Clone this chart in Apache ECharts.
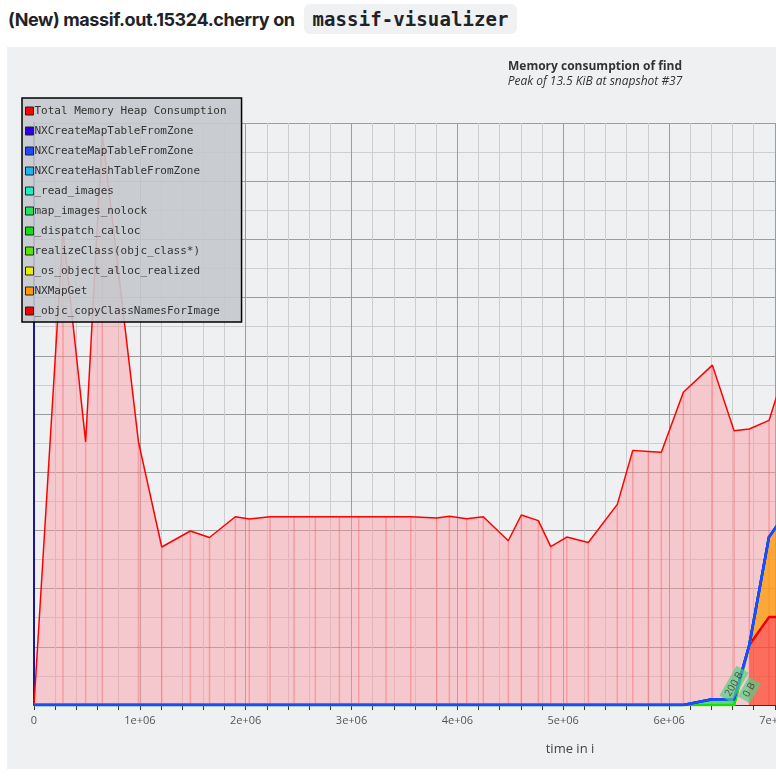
<!DOCTYPE html>
<html><head><meta charset="utf-8">
<script src="https://cdn.jsdelivr.net/npm/echarts/dist/echarts.min.js"></script>
<style>
html,body{margin:0;padding:0;background:#fff;width:776px;height:776px;overflow:hidden;}
#hdr{position:absolute;left:8px;top:7px;font:700 18px Inter, sans-serif;color:#1f2328;letter-spacing:-0.4px;white-space:nowrap;line-height:26px;}
#hdr code{font:700 19px 'DejaVu Sans Mono', monospace;background:#eff1f3;border-radius:6px;padding:4px 8px;letter-spacing:0.1px;margin-left:6px;}
#panel{position:absolute;left:7px;top:47px;width:769px;height:722px;background:#eef0f2;overflow:hidden;}
#chart{position:absolute;left:0;top:0;width:1176px;height:722px;}
</style></head>
<body>
<div id="hdr">(New) massif.out.15324.cherry on <code>massif-visualizer</code></div>
<div id="panel"><div id="chart"></div></div>
<script>
// snapshot times (instructions)
const snapshotTimes = [0, 274000, 488000, 645000, 987000, 1207000, 1477000, 1658000, 1902000, 2034000,
  2230000, 2457000, 2658000, 2885000, 3068000, 3326000, 3559000, 3805000, 3924000, 4088000,
  4245000, 4481000, 4604000, 4765000, 4882000, 5033000, 5237000, 5511000, 5657000, 5804000,
  5927000, 6135000, 6409000, 6614000, 6758000, 6944000, 7100000];
// total heap (bytes)
const totalHeap = [0, 16290, 9040, 19620, 9040, 5430, 5980, 5755, 6470, 6390,
  6470, 6470, 6470, 6470, 6470, 6470, 6470, 6425, 6485, 6400,
  6470, 5645, 6530, 6335, 5440, 5770, 5585, 6895, 8750, 8715,
  8685, 10745, 11680, 9425, 9485, 9780, 11560];
// detailed allocation sites (bytes); null = not present in that snapshot
const nxCreateMapTableA = [0,0,0,0,0,0,0,0,0,0, 0,0,0,0,0,0,0,0,0,0, 0,0,0,0,0,0,0,0,0,0, 0,0,0,0,0,0,0];
const nxCreateMapTableB = [0,0,0,0,0,0,0,0,0,0, 0,0,0,0,0,0,0,0,0,0, 0,0,0,0,0,0,0,0,0,0, 0,0,0,0,0,0,0];
const nxCreateHashTable = [0,0,0,0,0,0,0,0,0,0, 0,0,0,0,0,0,0,0,0,0, 0,0,0,0,0,0,0,0,0,0, 0,0,0,0,0,0,0];
const readImages        = [0,0,0,0,0,0,0,0,0,0, 0,0,0,0,0,0,0,0,0,0, 0,0,0,0,0,0,0,0,0,0, 0,0,0,0,0,0,0];
const mapImagesNolock   = [0,0,0,0,0,0,0,0,0,0, 0,0,0,0,0,0,0,0,0,0, 0,0,0,0,0,0,0,0,0,0, 0,0,200,200,0,0,0];
const dispatchCalloc    = [0,0,0,0,0,0,0,0,0,0, 0,0,0,0,0,0,0,0,0,0, 0,0,0,0,0,0,0,0,0,0, 0,0,0,0,0,0,0];
const realizeClass      = [0,0,0,0,0,0,0,0,0,0, 0,0,0,0,0,0,0,0,0,0, 0,0,0,0,0,0,0,0,0,0, 0,0,0,0,0,0,0];
const osObjectAlloc     = [0,0,0,0,0,0,0,0,0,0, 0,0,0,0,0,0,0,0,0,0, 0,0,0,0,0,0,0,0,0,0, 0,0,0,0,0,0,0];
const nxMapGet          = [0,0,0,0,0,0,0,0,0,0, 0,0,0,0,0,0,0,0,0,0, 0,0,0,0,0,0,0,0,0,0, 0,0,0,0,0,2750,3560];
const copyClassNames    = [null,null,null,null,null,null,null,null,null,null, null,null,null,null,null,null,null,null,null,null,
  null,null,null,null,null,null,null,null,null,null, null,null,null,null,2060,3020,3020];
// snapshot indices with value labels (map_images_nolock)
const labelIndices = [33, 34];
const xTickLabels = ['0','1e+06','2e+06','3e+06','4e+06','5e+06','6e+06','7e+06','8e+06','9e+06','1e+07'];

const TOTAL = 'Total Memory Heap Consumption';
// stacking order: bottom first
const detail = [
  {name:'_objc_copyClassNamesForImage', color:'#f00000', fill:'#ff3010', data:copyClassNames, op:0.6},
  {name:'NXMapGet', color:'#ff9a00', fill:'#ff9a00', data:nxMapGet, op:0.72},
  {name:'_os_object_alloc_realized', color:'#e6f000', fill:'#e6f000', data:osObjectAlloc, op:0.7},
  {name:'realizeClass(objc_class*)', color:'#52e600', fill:'#52e600', data:realizeClass, op:0.7},
  {name:'_dispatch_calloc', color:'#10e010', fill:'#10e010', data:dispatchCalloc, op:0.7},
  {name:'map_images_nolock', color:'#1ee65a', fill:'#1ee65a', data:mapImagesNolock, op:0.75},
  {name:'_read_images', color:'#1cf0c0', fill:'#1cf0c0', data:readImages, op:0.7},
  {name:'NXCreateHashTableFromZone', color:'#19b6f0', fill:'#19b6f0', data:nxCreateHashTable, op:0.7},
  {name:'NXCreateMapTableFromZone', color:'#2b00e6', fill:'#2b00e6', data:nxCreateMapTableA, op:0.7},
  {name:'NXCreateMapTableFromZone ', color:'#1f48ff', fill:'#1f48ff', data:nxCreateMapTableB, op:0.7}
];
const legendOrder = [TOTAL,'NXCreateMapTableFromZone','NXCreateMapTableFromZone ','NXCreateHashTableFromZone',
  '_read_images','map_images_nolock','_dispatch_calloc','realizeClass(objc_class*)',
  '_os_object_alloc_realized','NXMapGet','_objc_copyClassNamesForImage'];

const pairs = arr => snapshotTimes.map((t,i)=>[t, arr[i]]);
const FONT = "'Open Sans', 'Noto Sans', sans-serif";

// stacked table: base/top per series
let base = snapshotTimes.map(()=>0);
const stacked = detail.map(d=>{
  const lo = base.slice();
  const hi = d.data.map((v,i)=> v==null ? null : lo[i] + v);
  base = d.data.map((v,i)=> v==null ? lo[i] : lo[i] + v);
  return {d, lo, hi};
});

const series = [
  {type:'custom', silent:true, z:1, data:pairs(totalHeap), encode:{x:0,y:1},
   renderItem:(p,api)=>{
     const a = api.coord([api.value(0),0]);
     const b = api.coord([api.value(0),api.value(1)]);
     return {type:'line', shape:{x1:a[0],y1:a[1],x2:b[0],y2:b[1]},
       style:{stroke:'rgba(255,30,30,0.38)', lineWidth:1.5}};
   }},
  {name:TOTAL, type:'line', data:pairs(totalHeap), symbol:'none', z:2,
   itemStyle:{color:'#ff0000'}, lineStyle:{color:'#ff0000', width:1.5},
   areaStyle:{color:'rgba(255,150,156,0.62)'}}
];
// band fills between stacked levels
stacked.forEach(({d,lo,hi})=>{
  const segs = [];
  for (let i=0;i<snapshotTimes.length-1;i++){
    if (hi[i]==null || hi[i+1]==null) continue;
    segs.push([snapshotTimes[i], snapshotTimes[i+1], lo[i], hi[i], lo[i+1], hi[i+1]]);
  }
  series.push({type:'custom', silent:true, z:3, data:segs, encode:{x:[0,1], y:[3,5]},
    renderItem:(p,api)=>{
      const p1 = api.coord([api.value(0), api.value(2)]);
      const p2 = api.coord([api.value(0), api.value(3)]);
      const p3 = api.coord([api.value(1), api.value(5)]);
      const p4 = api.coord([api.value(1), api.value(4)]);
      return {type:'polygon', shape:{points:[p1,p2,p3,p4]},
        style:{fill:d.fill, opacity:d.op}};
    }});
});
// stacked lines
stacked.forEach(({d,hi})=>{
  series.push({name:d.name, type:'line', data:pairs(hi), symbol:'none', z:4,
    itemStyle:{color:d.color}, lineStyle:{color:d.color, width:2.5}});
});
series.push({type:'scatter', silent:true, z:6, symbolSize:1, itemStyle:{color:'rgba(0,0,0,0)'},
  data: labelIndices.map(i=>[snapshotTimes[i], mapImagesNolock[i]]),
  label:{show:true, position:'inside', offset:[13,-7.5], rotate:60,
    formatter:p=>p.value[1]+' B', backgroundColor:'rgba(80,208,130,0.85)', padding:[2,4],
    fontSize:10, color:'#333', fontFamily:FONT}});

const chart = echarts.init(document.getElementById('chart'), null, {renderer:'canvas'});
chart.setOption({
  animation:false,
  backgroundColor:'#eef0f2',
  title:{text:'Memory consumption of find', subtext:'Peak of 13.5 KiB at snapshot #37',
    left:'center', top:13, padding:0, itemGap:1,
    textStyle:{fontFamily:FONT, fontWeight:'bold', fontSize:12, color:'#333', lineHeight:14},
    subtextStyle:{fontFamily:FONT, fontStyle:'italic', fontSize:12, color:'#333', lineHeight:14}},
  legend:{orient:'vertical', left:15, top:51, data:legendOrder, icon:'rect', itemWidth:8, itemHeight:8,
    itemGap:6, padding:[6,15,4,3], backgroundColor:'rgba(196,200,204,0.9)', borderColor:'#000', borderWidth:1.5,
    selectedMode:false,
    textStyle:{fontFamily:"'DejaVu Sans Mono', monospace", fontSize:11, color:'#333', lineHeight:14, padding:[0,0,0,-4]},
    itemStyle:{borderColor:'#222', borderWidth:1}},
  grid:{left:27, right:77, top:76, bottom:64},
  xAxis:{type:'value', min:0, max:10128000, interval:1000000,
    name:'time in i', nameLocation:'middle', nameGap:38,
    nameTextStyle:{fontFamily:FONT, fontSize:13, color:'#444'},
    axisLine:{show:true, lineStyle:{color:'#333', width:1}},
    axisTick:{show:true, length:5, lineStyle:{color:'#333'}},
    minorTick:{show:true, splitNumber:5, length:5, lineStyle:{color:'#333'}},
    axisLabel:{margin:10, fontFamily:FONT, fontSize:11, color:'#555', showMaxLabel:false,
      formatter:v=>xTickLabels[Math.round(v/1e6)]},
    splitLine:{show:true, lineStyle:{color:'#9c9c9c'}},
    minorSplitLine:{show:true, lineStyle:{color:'#cdcecf'}}},
  yAxis:{type:'value', min:0, max:20000, interval:2000,
    axisLine:{show:true, lineStyle:{color:'#1e1496', width:2}},
    axisTick:{show:false}, axisLabel:{show:false},
    splitLine:{show:true, lineStyle:{color:'#9c9c9c'}},
    minorTick:{show:false, splitNumber:2},
    minorSplitLine:{show:true, lineStyle:{color:'#cdcecf'}}},
  series
});
</script>
</body></html>
